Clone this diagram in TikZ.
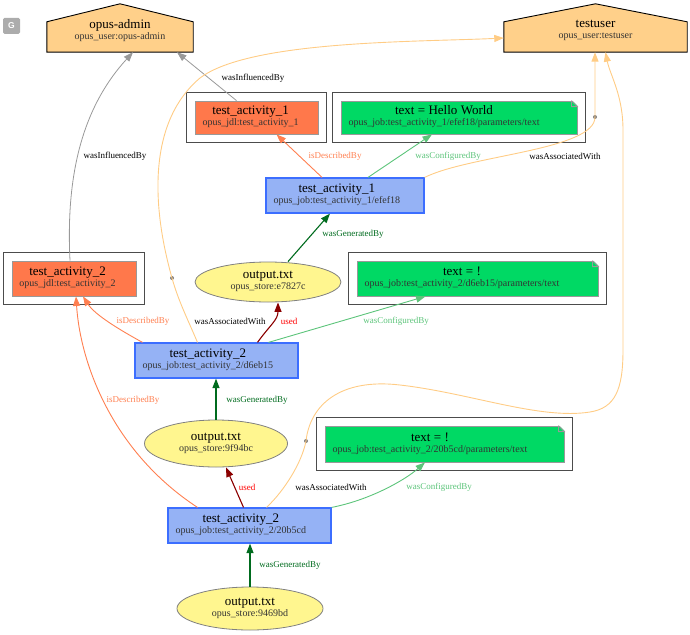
\documentclass[tikz,border=0pt]{standalone}
\usepackage{fontspec}
\setmainfont{Liberation Serif}
\newfontfamily\badgefont{Liberation Sans}
\usepackage{tikz}
\usetikzlibrary{arrows.meta, shapes.geometric, fit, backgrounds}

\definecolor{agentfill}{HTML}{FFD08A}
\definecolor{planfill}{HTML}{FF784B}
\definecolor{notefill}{HTML}{00D964}
\definecolor{actfill}{HTML}{95B2F5}
\definecolor{actline}{HTML}{3C6EFF}
\definecolor{entfill}{HTML}{FFF68F}
\definecolor{descline}{HTML}{FF7F50}
\definecolor{cfgline}{HTML}{5CC47A}
\definecolor{genline}{HTML}{006B1E}
\definecolor{useline}{HTML}{8B0000}
\definecolor{assocline}{HTML}{FFCC85}
\definecolor{inflline}{HTML}{999999}

\newcommand{\twoline}[2]{\begin{tabular}{@{}c@{}}{\fontsize{13}{14}\selectfont #1}\\{\color{black!80}#2}\end{tabular}}

\tikzset{
  badge/.style={fill=gray!65, text=white, rounded corners=1.5pt, inner sep=0pt,
    minimum width=17pt, minimum height=16pt, font=\badgefont\bfseries\fontsize{8.5}{8.5}\selectfont},
  agent/.style={minimum width=#1, minimum height=42pt, inner sep=0pt, align=center,
    font=\fontsize{10}{11}\selectfont},
  plan/.style={fill=planfill, draw=black!40, line width=0.8pt, text width=#1, align=left,
    inner xsep=7.5pt, inner ysep=0pt, font=\fontsize{10}{11}\selectfont},
  note/.style={plan=#1, fill=notefill},
  activity/.style={plan=#1, fill=actfill, draw=actline, line width=1.2pt},
  entity/.style={ellipse, fill=entfill, draw=gray, line width=0.8pt, inner sep=0pt, align=center,
    font=\fontsize{10}{11}\selectfont},
  frame/.style={draw=black!70, line width=1.2pt, inner sep=8pt},
  junction/.style={circle, fill=gray, inner sep=0pt, minimum size=4pt},
  lbl/.style={inner sep=1pt, font=\fontsize{9}{10}\selectfont},
  provarrow/.style={-{Triangle[length=9.5pt,width=7pt]}},
  infl/.style={provarrow, draw=inflline, line width=0.8pt},
  desc/.style={provarrow, draw=descline, line width=0.9pt},
  cfg/.style={provarrow, draw=cfgline, line width=0.9pt},
  gen/.style={provarrow, draw=genline, line width=1.1pt},
  used/.style={provarrow, draw=useline, line width=1.1pt},
  assoc/.style={provarrow, draw=assocline, line width=0.9pt}
}

\begin{document}
\begin{tikzpicture}[x=1pt, y=-1pt]
  \useasboundingbox (0,0) rectangle (690,634);

  % 標記
  \node[badge] (badge) at (11.5,26) {G};

  % 代理人
  \node[agent=146pt] (admin) at (120,31) {\twoline{opus-admin}{opus\_user:opus-admin}};
  \node[agent=183pt] (user) at (595.5,31) {\twoline{testuser}{opus\_user:testuser}};
  \begin{scope}[on background layer]
    \foreach \n in {admin,user}
      \filldraw[fill=agentfill, draw=black, line width=0.9pt]
        (\n.south west) -- ([yshift=-12pt]\n.north west) -- ([yshift=6pt]\n.north)
        -- ([yshift=-12pt]\n.north east) -- (\n.south east) -- cycle;
  \end{scope}

  % 計畫與參數
  \node[plan=108pt, minimum height=33pt] (jdl1) at (256.5,117.5)
    {\twoline{test\_activity\_1}{opus\_jdl:test\_activity\_1}};
  \node[note=221pt, minimum height=33pt] (cfg1) at (459,117.5)
    {\twoline{text = Hello World}{opus\_job:test\_activity\_1/efef18/parameters/text}};
  \node[plan=109pt, minimum height=35pt] (jdl2) at (74,278.5)
    {\twoline{test\_activity\_2}{opus\_jdl:test\_activity\_2}};
  \node[note=226pt, minimum height=35pt] (cfg2) at (477.5,278.5)
    {\twoline{text = !}{opus\_job:test\_activity\_2/d6eb15/parameters/text}};
  \node[note=224pt, minimum height=36pt] (cfg3) at (444.5,444)
    {\twoline{text = !}{opus\_job:test\_activity\_2/20b5cd/parameters/text}};
  \foreach \n in {jdl1,cfg1,jdl2,cfg2,cfg3}
    \node[frame, fit=(\n)] (\n box) {};
  \foreach \n in {cfg1,cfg2,cfg3} {
    \fill[white] ([shift={(-6pt,1pt)}]\n.north east) -- ([shift={(1pt,1pt)}]\n.north east)
      -- ([shift={(1pt,-6pt)}]\n.north east) -- cycle;
    \draw[black!40, line width=0.8pt] ([xshift=-6pt]\n.north east) -- ([yshift=-6pt]\n.north east)
      -| ([xshift=-6pt]\n.north east);
  }

  % 活動
  \node[activity=143pt, minimum height=35pt] (act1) at (345,195.5)
    {\twoline{test\_activity\_1}{opus\_job:test\_activity\_1/efef18}};
  \node[activity=148pt, minimum height=35pt] (act2) at (216.5,360.5)
    {\twoline{test\_activity\_2}{opus\_job:test\_activity\_2/d6eb15}};
  \node[activity=148pt, minimum height=35pt] (act3) at (249.5,525.5)
    {\twoline{test\_activity\_2}{opus\_job:test\_activity\_2/20b5cd}};

  % 實體
  \node[entity, minimum width=146pt, minimum height=40pt] (out1) at (268,282)
    {\twoline{output.txt}{opus\_store:e7827c}};
  \node[entity, minimum width=143pt, minimum height=47pt] (out2) at (216,443.5)
    {\twoline{output.txt}{opus\_store:9f94bc}};
  \node[entity, minimum width=146pt, minimum height=43pt] (out3) at (250,608.5)
    {\twoline{output.txt}{opus\_store:9469bd}};

  \node[junction] (dot1) at (595,117) {};
  \node[junction] (dot2) at (172,278) {};
  \node[junction] (dot3) at (306,441) {};

  % wasInfluencedBy
  \draw[infl] ([xshift=-4pt]jdl2.north) .. controls (66,180) and (80,110) .. ([xshift=13pt]admin.south);
  \draw[infl] ([xshift=-20pt]jdl1.north) -- ([xshift=57pt]admin.south);
  \node[lbl] (linf1) at (115,156) {wasInfluencedBy};
  \node[lbl] (linf2) at (253,78) {wasInfluencedBy};

  % isDescribedBy
  \draw[desc] ([xshift=-23pt]act1.north) -- ([xshift=20pt]jdl1.south);
  \draw[desc] ([xshift=-74pt]act2.north) .. controls (120,330) and (95,315) .. ([xshift=9pt]jdl2.south);
  \draw[desc] ([xshift=-52pt]act3.north) .. controls (110,450) and (80,360) .. ([xshift=2pt]jdl2.south);
  \node[lbl, text=descline] (ldesc1) at (335,156) {isDescribedBy};
  \node[lbl, text=descline] (ldesc2) at (143,321) {isDescribedBy};
  \node[lbl, text=descline] (ldesc3) at (133,400) {isDescribedBy};

  % wasConfiguredBy
  \draw[cfg] ([xshift=23pt]act1.north) -- ([xshift=-27pt]cfg1.south);
  \draw[cfg] ([xshift=52pt]act2.north) -- ([xshift=-52pt]cfg2.south);
  \draw[cfg] (act3.north east) .. controls (370,500) and (405,480) .. ([xshift=-19.5pt]cfg3.south);
  \node[lbl, text=cfgline] (lcfg1) at (448,156) {wasConfiguredBy};
  \node[lbl, text=cfgline] (lcfg2) at (396,321) {wasConfiguredBy};
  \node[lbl, text=cfgline] (lcfg3) at (439,487) {wasConfiguredBy};

  % wasGeneratedBy
  \draw[gen] ([xshift=20pt]out1.north) -- ([xshift=-15pt]act1.south);
  \draw[gen] (out2.north) -- (out2.north |- act2.south);
  \draw[gen] (out3.north) -- (out3.north |- act3.south);
  \node[lbl, text=genline] (lgen1) at (353,234) {wasGeneratedBy};
  \node[lbl, text=genline] (lgen2) at (257,400) {wasGeneratedBy};
  \node[lbl, text=genline] (lgen3) at (290,565) {wasGeneratedBy};

  % used
  \draw[used] ([xshift=41pt]act2.north) .. controls (270,325) and (278,320) .. ([xshift=10pt]out1.south);
  \draw[used] ([xshift=-6pt]act3.north) -- ([xshift=10pt]out2.south);
  \node[lbl, text=red] (lused2) at (289,321) {used};
  \node[lbl, text=red] (lused3) at (247,487) {used};

  % wasAssociatedWith
  \draw[assoc] (act1.north east) .. controls (470,155) and (595,150) .. (dot1.center)
    -- (dot1 |- user.south);
  \draw[assoc] ([xshift=-19pt]act2.north) .. controls (188,320) and (178,300) .. (dot2.center)
    .. controls (150,200) and (150,120) .. (200,78)
    .. controls (250,40) and (420,42) .. ([yshift=-7pt]user.west);
  \draw[assoc] ([xshift=17pt]act3.north) .. controls (285,490) and (302,462) .. (dot3.center)
    .. controls (310,405) and (340,378) .. (400,385)
    .. controls (470,393) and (540,420) .. (590,412)
    .. controls (615,408) and (623,390) .. (623,350) -- (623,130)
    .. controls (623,95) and (610,75) .. ([xshift=10pt]user.south);
  \node[lbl] (lassoc1) at (565,156) {wasAssociatedWith};
  \node[lbl] (lassoc2) at (230,321) {wasAssociatedWith};
  \node[lbl] (lassoc3) at (331,487) {wasAssociatedWith};
\end{tikzpicture}
\end{document}
